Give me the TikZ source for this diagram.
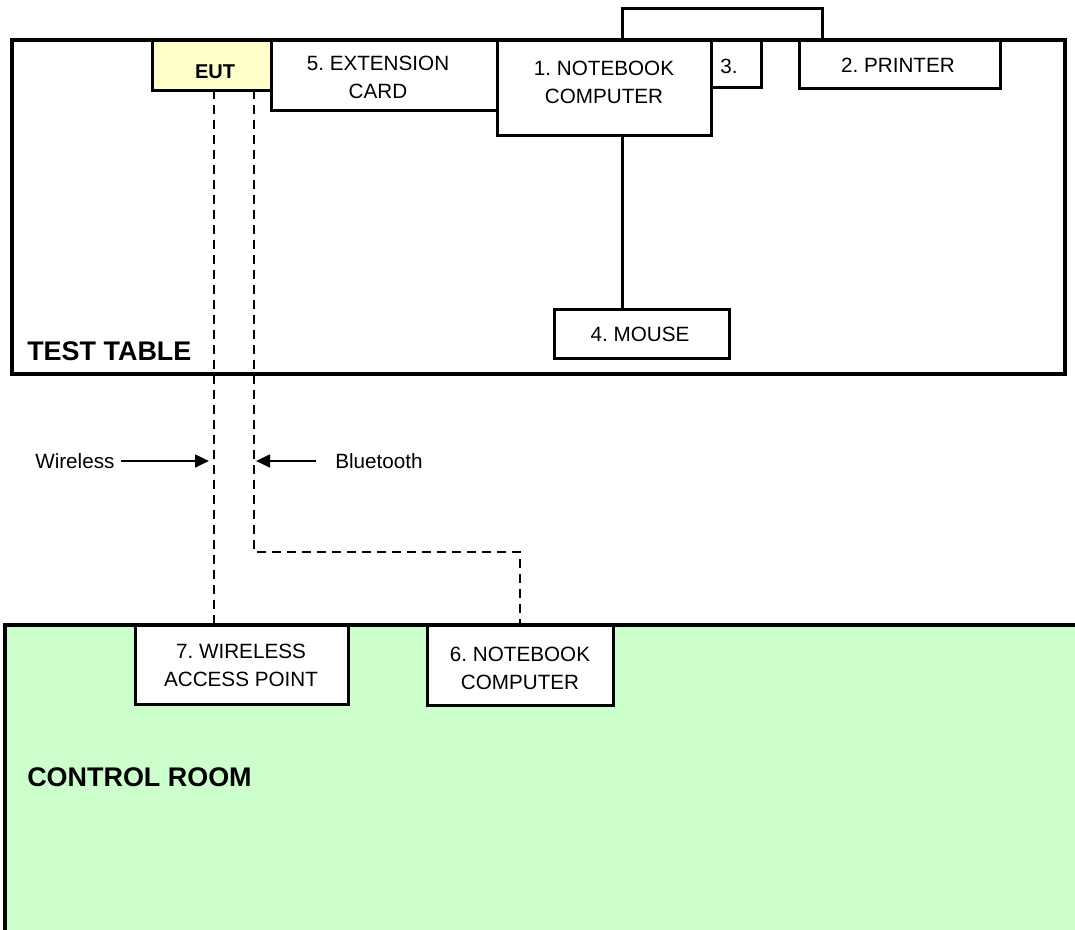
\documentclass[tikz,border=0pt]{standalone}
\usepackage{fontspec}
\setmainfont{Liberation Sans}
\frenchspacing
\usetikzlibrary{arrows.meta}
\definecolor{eutfill}{HTML}{FFFFCC}
\definecolor{crfill}{HTML}{CCFFCC}
\tikzset{
  frame/.style={draw=black, line width=3pt},
  devbox/.style={draw=black, line width=2.25pt, fill=white, inner sep=0pt, outer sep=0pt},
  eutbox/.style={devbox, fill=eutfill},
  lbl/.style={font=\frenchspacing\fontsize{15.5}{21}\selectfont, align=center, inner sep=0pt},
  boldlbl/.style={font=\fontsize{15}{21}\selectfont\bfseries, inner sep=0pt},
  head/.style={font=\fontsize{20.2}{24}\selectfont\bfseries, anchor=west, inner sep=0pt},
  side/.style={font=\fontsize{15.5}{21}\selectfont, anchor=west, inner sep=0pt},
  cable/.style={draw=black, line width=2.25pt},
  radio/.style={draw=black, line width=2pt, dash pattern=on 6.75pt off 4.5pt},
  pointer/.style={draw=black, line width=2pt, -{Triangle[length=10.5pt, width=9.5pt]}}
}
\begin{document}
\begin{tikzpicture}[x=0.75pt, y=-0.75pt]
\useasboundingbox (0,0) rectangle (1075,929);
\clip (0,0) rectangle (1075,929);
\fill[white] (0,0) rectangle (1075,929);

% control room
\fill[crfill] (5,625) rectangle (1090,940);
\draw[frame] (5,940) -- (5,625) -- (1090,625);

% test table
\draw[frame] (12,40) rectangle (1065,374);

% coordinates for connector positions
\coordinate (cx1) at (622,0);
\coordinate (cx2) at (822,0);
\coordinate (ctop) at (0,8);
\coordinate (wx) at (214,0);
\coordinate (bend) at (254,552);

% boxes
\node[eutbox, minimum width=89.25pt, minimum height=37.5pt] (eut) at (211.5,65) {};
\node[devbox, minimum width=169.5pt, minimum height=52.5pt] (ext) at (384,75) {};
\node[devbox, minimum width=160.5pt, minimum height=71.25pt] (nb1) at (604,87.5) {};
\node[devbox, minimum width=37.5pt, minimum height=35.25pt] (b3) at (736,63.5) {};
\node[devbox, minimum width=150.75pt, minimum height=36pt] (prn) at (899.5,64) {};
\node[devbox, minimum width=131.25pt, minimum height=36.75pt] (mouse) at (641.5,333.5) {};
\node[devbox, minimum width=159.75pt, minimum height=59.25pt] (b7) at (241.5,664.5) {};
\node[devbox, minimum width=139.5pt, minimum height=60pt] (b6) at (520,665) {};

% cables
\draw[cable] (nb1.south -| cx1) -- (mouse.north -| cx1);
\draw[cable] (nb1.north -| cx1) -- (cx1 |- ctop) -- (cx2 |- ctop) -- (prn.north -| cx2);

% radio links
\draw[radio] (eut.south -| wx) -- (b7.north -| wx);
\draw[radio] (eut.south -| bend) -- (bend) -| (b6.north);

% labels
\node[boldlbl] (teut) at (215,72) {EUT};
\node[lbl] (t5) at (378,77) {5. EXTENSION\\CARD};
\node[lbl] (t1) at (604,82) {1. NOTEBOOK\\COMPUTER};
\node[lbl] (t3) at (729,66) {3.};
\node[lbl] (t2) at (898,65) {2. PRINTER};
\node[lbl] (t4) at (640,334) {4. MOUSE};
\node[lbl] (t7) at (241,665) {7. WIRELESS\\ACCESS POINT};
\node[lbl] (t6) at (520,668) {6. NOTEBOOK\\COMPUTER};
\node[head] (ttable) at (27,351) {TEST TABLE};
\node[head] (tcontrol) at (27,777) {CONTROL ROOM};
\node[side] (wl) at (35,461) {Wireless};
\node[side] (bl) at (335,461) {Bluetooth};

% pointers
\coordinate (wtip) at (209,461);
\coordinate (btip) at (256,461);
\draw[pointer] ([xshift=4.5pt]wl.east) -- (wtip);
\draw[pointer] ([xshift=-14pt]bl.west) -- (btip);
\end{tikzpicture}
\end{document}
